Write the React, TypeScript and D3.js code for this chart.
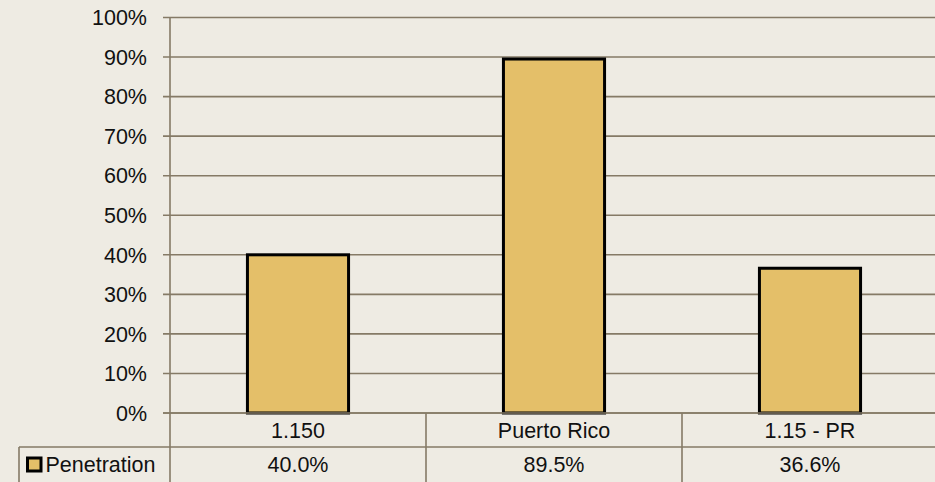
import React from "react";
import * as d3 from "d3";

const categories = ["1.150", "Puerto Rico", "1.15 - PR"];
const penetration = [0.4, 0.895, 0.366];
const valueLabels = ["40.0%", "89.5%", "36.6%"];
const seriesName = "Penetration";
const yTicks = [0, 0.1, 0.2, 0.3, 0.4, 0.5, 0.6, 0.7, 0.8, 0.9, 1];

const W = 935;
const H = 482;
const bg = "#EEEBE3";
const gridColor = "#857A66";
const barFill = "#E4BF69";
const font = "'Liberation Sans', Arial, sans-serif";
const fs = 21.5;

const App = () => {
  const left = 170;
  const right = 938;
  const top = 17.5;
  const bottom = 413;
  const row1 = 447;
  const row2 = 482;

  // columns of the data table share the band scale with the bars
  const xCol = d3.scaleBand().domain(categories).range([left, right]).padding(0);
  const y = d3.scaleLinear().domain([0, 1]).range([bottom, top]);
  const barW = xCol.bandwidth() * 0.395;
  const fmt = d3.format(".0%");

  return (
    <svg
      width={W}
      height={H}
      style={{ position: "absolute", left: 0, top: 0, background: bg }}
    >
      <rect x={0} y={0} width={W} height={H} fill={bg} />

      {/* gridlines + ticks */}
      {yTicks.map((t) => (
        <g key={t}>
          <line x1={left - 7} x2={W} y1={y(t)} y2={y(t)} stroke={gridColor} strokeWidth={1.6} />
          <text
            x={147}
            y={y(t)}
            dy="0.36em"
            textAnchor="end"
            fontFamily={font}
            fontSize={fs}
            fill="#111"
          >
            {fmt(t)}
          </text>
        </g>
      ))}

      {/* bars */}
      {categories.map((c, i) => (
        <rect
          key={c}
          x={xCol(c)! + xCol.bandwidth() / 2 - barW / 2}
          y={y(penetration[i])}
          width={barW}
          height={bottom - y(penetration[i])}
          fill={barFill}
          stroke="#000"
          strokeWidth={3}
        />
      ))}
      <line x1={left - 7} x2={W} y1={bottom} y2={bottom} stroke={gridColor} strokeWidth={1.6} />

      {/* y axis line continuing through the table */}
      <line x1={left} x2={left} y1={top} y2={row2} stroke={gridColor} strokeWidth={1.6} />

      {/* data table */}
      <line x1={19} x2={W} y1={row1} y2={row1} stroke={gridColor} strokeWidth={1.6} />
      <line x1={19} x2={19} y1={row1} y2={row2} stroke={gridColor} strokeWidth={1.6} />
      {categories.map((c, i) => (
        <g key={c}>
          {i > 0 && (
            <line
              x1={xCol(c)!}
              x2={xCol(c)!}
              y1={bottom}
              y2={row2}
              stroke={gridColor}
              strokeWidth={1.6}
            />
          )}
          <text
            x={xCol(c)! + xCol.bandwidth() / 2}
            y={438}
            textAnchor="middle"
            fontFamily={font}
            fontSize={fs}
            fill="#111"
          >
            {c}
          </text>
          <text
            x={xCol(c)! + xCol.bandwidth() / 2}
            y={472}
            textAnchor="middle"
            fontFamily={font}
            fontSize={fs}
            fill="#111"
          >
            {valueLabels[i]}
          </text>
        </g>
      ))}

      {/* legend key */}
      <rect x={27.5} y={458} width={13.5} height={13} fill={barFill} stroke="#000" strokeWidth={3} />
      <text x={45.5} y={472} fontFamily={font} fontSize={fs} fill="#111">
        {seriesName}
      </text>
    </svg>
  );
};

export default App;
